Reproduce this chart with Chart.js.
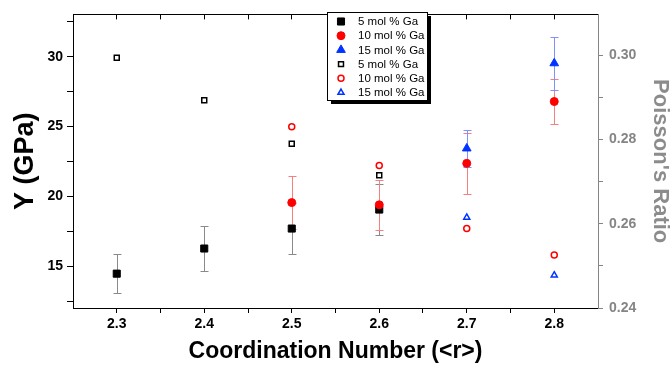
<!DOCTYPE html>
<html>
<head>
<meta charset="utf-8">
<script src="https://cdn.jsdelivr.net/npm/chart.js@4.4.1/dist/chart.umd.min.js"></script>
<style>
  html, body { margin: 0; padding: 0; background: #fff; }
  #wrap { width: 671px; height: 367px; }
</style>
</head>
<body>
<div id="wrap"><canvas id="gaChart" width="671" height="367"></canvas></div>
<script>
// coordination number <r> per composition
const ga5X = [2.3, 2.4, 2.5, 2.6];
const ga10X = [2.5, 2.6, 2.7, 2.8];
const ga15X = [2.7, 2.8];

// Young's modulus Y (GPa) with error
const ga5Y = [14.46, 16.26, 17.69, 19.05];
const ga5Err = [1.4, 1.6, 1.8, 1.8];
const ga10Y = [19.55, 19.39, 22.36, 26.79];
const ga10Err = [1.9, 1.8, 2.2, 1.6];
const ga15Y = [23.43, 29.53];
const ga15Err = [1.3, 1.9];

// Poisson's ratio
const ga5Nu = [0.2994, 0.2893, 0.2790, 0.2715];
const ga10Nu = [0.2830, 0.2738, 0.2589, 0.2526];
const ga15Nu = [0.2615, 0.2478];

const seriesLabels = ['5 mol % Ga', '10 mol % Ga', '15 mol % Ga'];

// ticks
const xMajor = [2.3, 2.4, 2.5, 2.6, 2.7, 2.8];
const xMinor = [2.35, 2.45, 2.55, 2.65, 2.75];
const yMajor = [15, 20, 25, 30];
const yMinor = [12.5, 17.5, 22.5, 27.5, 32.5];
const nuMajor = [0.24, 0.26, 0.28, 0.30];
const nuMinor = [0.25, 0.27, 0.29];

const FONT = "'Liberation Sans', Arial, sans-serif";
const GREY = '#858585';
Chart.defaults.font.family = FONT;

const pts = (xs, ys) => xs.map((x, i) => ({ x: x, y: ys[i] }));

function setTicks(major, minor) {
  return scale => {
    scale.ticks = major.concat(minor).sort((a, b) => a - b).map(v => ({ value: v }));
  };
}
function fixSize(prop, size) {
  return scale => { scale[prop] = size; };
}
function grid(color, len) {
  return { drawOnChartArea: false, drawTicks: true, tickLength: len, color: color, tickColor: color, tickWidth: 1 };
}

// vertical error bars, drawn under the markers
const errorBars = {
  id: 'errorBars',
  beforeDatasetsDraw(chart) {
    const ctx = chart.ctx;
    ctx.save();
    chart.data.datasets.forEach(ds => {
      if (!ds.errors) return;
      const xs = chart.scales[ds.xAxisID];
      const ys = chart.scales[ds.yAxisID];
      ctx.strokeStyle = ds.errorColor;
      ctx.lineWidth = 1;
      ds.data.forEach((p, j) => {
        const px = Math.round(xs.getPixelForValue(p.x)) + 0.5;
        const top = Math.round(ys.getPixelForValue(p.y + ds.errors[j])) + 0.5;
        const bot = Math.round(ys.getPixelForValue(p.y - ds.errors[j])) + 0.5;
        ctx.beginPath();
        ctx.moveTo(px, top); ctx.lineTo(px, bot);
        ctx.moveTo(px - 4, top); ctx.lineTo(px + 4, top);
        ctx.moveTo(px - 4, bot); ctx.lineTo(px + 4, bot);
        ctx.stroke();
      });
    });
    ctx.restore();
  }
};

// boxed legend with drop shadow
const boxLegend = {
  id: 'boxLegend',
  afterDraw(chart) {
    const ctx = chart.ctx;
    const x = 327, y = 12, w = 100, h = 88;
    ctx.save();
    ctx.fillStyle = '#000';
    ctx.fillRect(x + 4, y + 4, w, h);
    ctx.fillStyle = '#fff';
    ctx.fillRect(x, y, w, h);
    ctx.strokeStyle = '#000';
    ctx.lineWidth = 1;
    ctx.strokeRect(x + 0.5, y + 0.5, w, h);
    ctx.font = '11.5px ' + FONT;
    ctx.textBaseline = 'middle';
    chart.data.datasets.forEach((ds, i) => {
      const rowY = y + 9.5 + i * 14.2;
      ctx.fillStyle = ds.backgroundColor;
      ctx.strokeStyle = ds.borderColor;
      ctx.lineWidth = ds.borderWidth;
      Chart.helpers.drawPoint(ctx, {
        pointStyle: ds.pointStyle, radius: ds.pointRadius,
        borderWidth: ds.borderWidth, rotation: 0
      }, x + 14, rowY);
      ctx.fillStyle = '#000';
      ctx.fillText(ds.label, x + 31, rowY + 0.5);
    });
    ctx.restore();
  }
};

new Chart(document.getElementById('gaChart'), {
  type: 'scatter',
  data: {
    datasets: [
      { label: seriesLabels[0], data: pts(ga5X, ga5Y), errors: ga5Err, errorColor: '#8a8a8a',
        xAxisID: 'x', yAxisID: 'y', order: 3,
        pointStyle: 'rect', pointRadius: 5, backgroundColor: '#000', borderColor: '#000', borderWidth: 1 },
      { label: seriesLabels[1], data: pts(ga10X, ga10Y), errors: ga10Err, errorColor: '#f58080',
        xAxisID: 'x', yAxisID: 'y', order: 2,
        pointStyle: 'circle', pointRadius: 4, backgroundColor: '#ff0000', borderColor: '#ff0000', borderWidth: 1 },
      { label: seriesLabels[2], data: pts(ga15X, ga15Y), errors: ga15Err, errorColor: '#8090ff',
        xAxisID: 'x', yAxisID: 'y', order: 1,
        pointStyle: 'triangle', pointRadius: 5, backgroundColor: '#0033ff', borderColor: '#0033ff', borderWidth: 1 },
      { label: seriesLabels[0], data: pts(ga5X, ga5Nu),
        xAxisID: 'x', yAxisID: 'y1', order: 0,
        pointStyle: 'rect', pointRadius: 3.5, backgroundColor: '#fff', borderColor: '#000', borderWidth: 1.5 },
      { label: seriesLabels[1], data: pts(ga10X, ga10Nu),
        xAxisID: 'x', yAxisID: 'y1', order: 0,
        pointStyle: 'circle', pointRadius: 3, backgroundColor: '#fff', borderColor: '#ff0000', borderWidth: 1.5 },
      { label: seriesLabels[2], data: pts(ga15X, ga15Nu),
        xAxisID: 'x', yAxisID: 'y1', order: 0,
        pointStyle: 'triangle', pointRadius: 3.5, backgroundColor: '#fff', borderColor: '#0033ff', borderWidth: 1.5 }
    ]
  },
  options: {
    responsive: false,
    animation: false,
    events: [],
    layout: { padding: 0 },
    plugins: { legend: { display: false }, tooltip: { enabled: false } },
    scales: {
      x: {
        type: 'linear', position: 'bottom', min: 2.25, max: 2.85,
        afterBuildTicks: setTicks(xMajor, xMinor),
        afterFit: fixSize('height', 59),
        grid: grid('#000', 5),
        border: { color: '#000', width: 1 },
        ticks: {
          autoSkip: false, maxRotation: 0, padding: 3, color: '#000',
          font: { size: 14, weight: 'bold' },
          callback: v => xMajor.some(m => Math.abs(m - v) < 1e-6) ? v.toFixed(1) : ''
        },
        title: { display: true, text: 'Coordination Number (<r>)', color: '#000',
          font: { size: 23, weight: 'bold' }, padding: { top: 0, bottom: 2 } }
      },
      xTop: {
        type: 'linear', position: 'top', min: 2.25, max: 2.85,
        afterBuildTicks: setTicks(xMajor, xMinor),
        afterFit: fixSize('height', 13),
        grid: grid('#000', -5),
        border: { color: '#000', width: 1 },
        ticks: { display: false }
      },
      y: {
        type: 'linear', position: 'left', min: 12, max: 33.03,
        afterBuildTicks: setTicks(yMajor, yMinor),
        afterFit: fixSize('width', 73),
        grid: grid('#000', 6),
        border: { color: '#000', width: 1 },
        ticks: {
          autoSkip: false, padding: 4, color: '#000',
          font: { size: 14, weight: 'bold' },
          callback: v => yMajor.includes(v) ? String(v) : ''
        },
        title: { display: true, text: 'Y (GPa)', color: '#000',
          font: { size: 27, weight: 'bold' }, padding: { top: 9, bottom: 0 } }
      },
      y1: {
        type: 'linear', position: 'right', min: 0.24, max: 0.3097,
        afterBuildTicks: setTicks(nuMajor, nuMinor),
        afterFit: fixSize('width', 73),
        grid: grid(GREY, 5),
        border: { color: GREY, width: 1 },
        ticks: {
          autoSkip: false, padding: 6, color: GREY,
          font: { size: 14, weight: 'bold' },
          callback: v => nuMajor.some(m => Math.abs(m - v) < 1e-6) ? v.toFixed(2) : ''
        },
        title: { display: true, text: "Poisson's Ratio", color: '#8c8c8c',
          font: { size: 22, weight: 'bold', lineHeight: 1 }, padding: 0 }
      }
    }
  },
  plugins: [errorBars, boxLegend]
});
</script>
</body>
</html>
